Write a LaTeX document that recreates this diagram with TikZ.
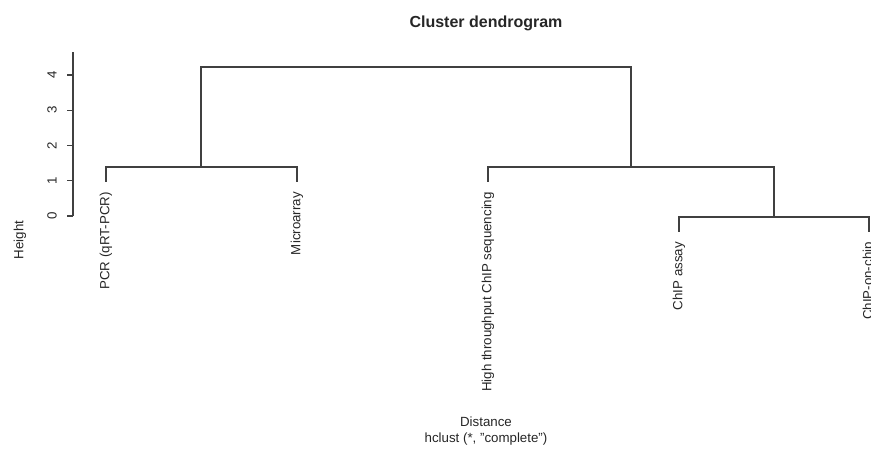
\documentclass[tikz,border=0pt]{standalone}
\usepackage{fontspec}
\setmainfont{Liberation Sans}
\usetikzlibrary{positioning}

\tikzset{
  branch/.style={draw=black!75,line width=1.1pt},
  leaf/.style={rotate=90,anchor=east,inner sep=0pt,font=\fontsize{13.3}{15}\selectfont,text=black!85},
  ticklab/.style={rotate=90,inner sep=0pt,font=\fontsize{13.3}{15}\selectfont,text=black!85},
  axtitle/.style={inner sep=0pt,font=\fontsize{13.3}{16}\selectfont,text=black!85,align=center}
}

\begin{document}
\begin{tikzpicture}[x=1pt,y=-1pt]
\useasboundingbox (0,0) rectangle (871,449);

% title
\node[inner sep=0pt,font=\fontsize{16}{18}\selectfont\bfseries,text=black!85] (title) at (486,23) {Cluster dendrogram};

% y axis
\draw[branch] (73,216) -- (73,52);
\foreach \h in {0,...,4} {
  \draw[branch] (73,216-35.25*\h) -- (66.5,216-35.25*\h);
  \node[ticklab] at (52,216-35.25*\h) {\h};
}
\node[axtitle,rotate=90] (ylab) at (20,240) {Height};

% leaf tips and merge points
\coordinate (l1) at (106,182);
\coordinate (l2) at (297,182);
\coordinate (l3) at (488,182);
\coordinate (l4) at (679,232);
\coordinate (l5) at (869,232);
\coordinate (m12) at (201,167);
\coordinate (m45) at (774,217);
\coordinate (m345) at (631,167);
\coordinate (root) at (416,67);

% branches
\draw[branch] (l1) |- (m12) -| (l2);
\draw[branch] (l4) |- (m45) -| (l5);
\draw[branch] (l3) |- (m345) -| (m45);
\draw[branch] (m12) |- (root) -| (m345);

% leaf labels
\node[leaf] (t1) at ([yshift=-10pt]l1) {PCR (qRT-PCR)};
\node[leaf] (t2) at ([yshift=-10pt]l2) {Microarray};
\node[leaf] (t3) at ([yshift=-10pt]l3) {High throughput ChIP sequencing};
\node[leaf] (t4) at ([yshift=-10pt]l4) {ChIP assay};
\node[leaf] (t5) at ([yshift=-10pt]l5) {ChIP-on-chip};

% x axis title
\node[axtitle] (xlab) at (486,431) {Distance\\hclust (*, "complete")};
\end{tikzpicture}
\end{document}
